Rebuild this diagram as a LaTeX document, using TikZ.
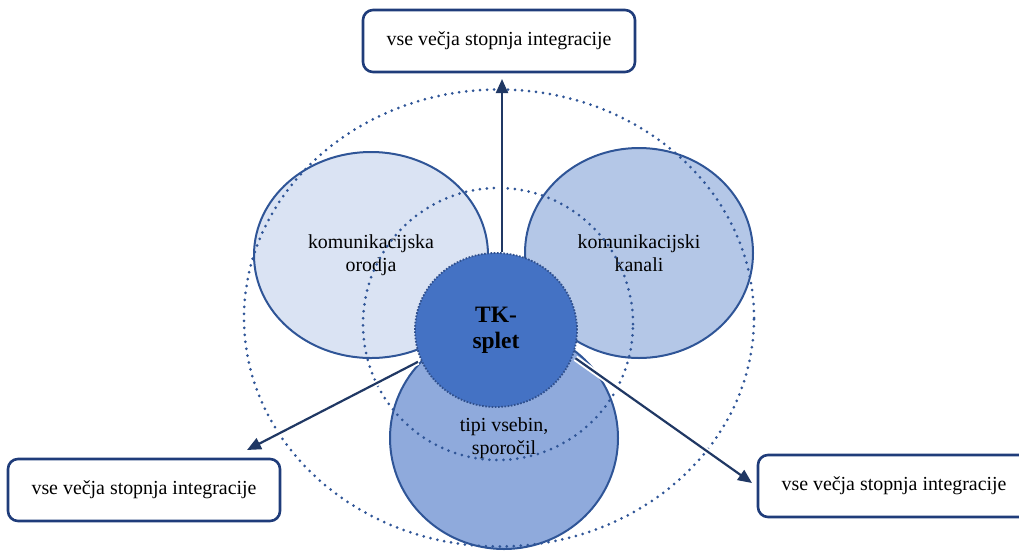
\documentclass[tikz,border=0pt]{standalone}
\usepackage{fontspec}
\setmainfont{Liberation Serif}
\usetikzlibrary{shapes.geometric,arrows.meta}
\definecolor{toolsfill}{HTML}{DAE3F3}
\definecolor{channelsfill}{HTML}{B4C7E7}
\definecolor{contentsfill}{HTML}{8FAADC}
\definecolor{corefill}{HTML}{4472C4}
\definecolor{coreedge}{HTML}{2F4F8C}
\definecolor{ringblue}{HTML}{2F5597}
\definecolor{boxnavy}{HTML}{1F3C7A}
\definecolor{arrownavy}{HTML}{203864}
\begin{document}
\begin{tikzpicture}[x=1pt,y=-1pt,
    levelbox/.style={draw=boxnavy,line width=2.6pt,rounded corners=10pt,fill=white,
        minimum width=272pt,minimum height=62pt,font=\fontsize{19.9}{23}\selectfont},
    area/.style={ellipse,draw=ringblue,line width=2pt,inner sep=0pt,align=center,
        font=\fontsize{19.9}{23}\selectfont},
    ring/.style={ellipse,draw=ringblue,line width=3pt,line cap=round,
        dash pattern=on 0pt off 7pt,inner sep=0pt},
    growth/.style={draw=arrownavy,line width=2.2pt,-{Triangle[length=14pt,width=12pt]},
        preaction={draw=white,line width=6pt,-}}]
    \useasboundingbox (0,0) rectangle (1019,550);
    % three areas round the core
    \node[area,fill=toolsfill,minimum width=234pt,minimum height=206pt] (tools) at (371,255) {komunikacijska\\orodja};
    \node[area,fill=channelsfill,minimum width=228pt,minimum height=210pt] (channels) at (639,253) {komunikacijski\\kanali};
    \node[area,fill=contentsfill,minimum width=228pt,minimum height=222pt] (contents) at (504,438) {tipi vsebin,\\sporočil};
    % dotted rings
    \node[ring,minimum width=510pt,minimum height=457pt] (outer) at (499,318) {};
    \node[ring,minimum width=270pt,minimum height=272pt] (inner) at (498,324) {};
    % core
    \node[ellipse,fill=corefill,draw=coreedge,line width=1.8pt,dash pattern=on 1.6pt off 1.6pt,
        minimum width=162pt,minimum height=154pt,inner sep=0pt,align=center,
        font=\bfseries\fontsize{23.5}{26}\selectfont] (core) at (496,330) {TK-\\splet};
    % goals
    \node[levelbox] (topgoal) at (499,41) {vse večja stopnja integracije};
    \node[levelbox] (leftgoal) at (144,490) {vse večja stopnja integracije};
    \node[levelbox] (rightgoal) at (894,486) {vse večja stopnja integracije};
    \coordinate (toptip) at (502,79);
    \coordinate (lefttip) at (247,450);
    \coordinate (righttip) at (752,483);
    \draw[growth] (core.north -| toptip) -- (toptip);
    \draw[growth,shorten <=3pt] (core.202) -- (lefttip);
    \draw[growth,shorten <=3pt] (core.-19) -- (righttip);
\end{tikzpicture}
\end{document}
